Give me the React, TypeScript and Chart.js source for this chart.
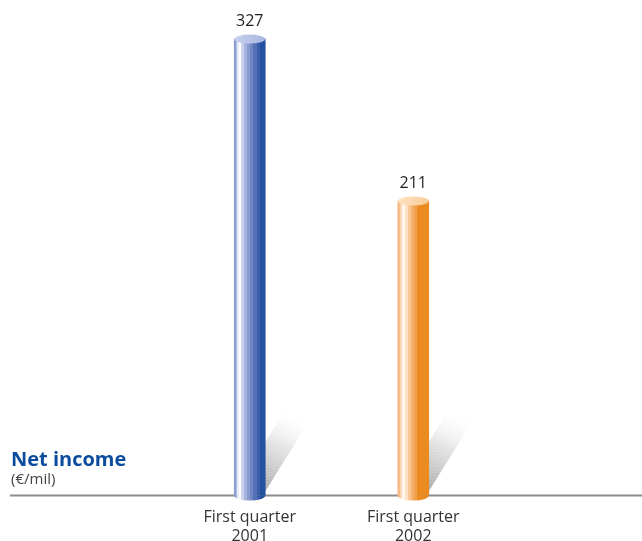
import React, { useEffect, useRef } from "react";
import { Chart, registerables } from "chart.js";

Chart.register(...registerables);

// ---- data ----
const categories: string[][] = [
  ["First quarter", "2001"],
  ["First quarter", "2002"],
];
const netIncome: number[] = [327, 211];
const valueLabels: string[] = ["327", "211"];
const titleText = "Net income";
const unitText = "(€/mil)";
const yMax = 350;

// ---- styles ----
const FONT = "'Open Sans', Lato, sans-serif";
const blueStops: [number, number, string][] = [
  [0, 0.07, "#8a9dd0"],
  [0.07, 0.1, "#b3bfe3"],
  [0.1, 0.16, "#e6eaf7"],
  [0.16, 0.22, "#ffffff"],
  [0.22, 0.32, "#c9d1ed"],
  [0.32, 0.42, "#a6b3de"],
  [0.42, 0.52, "#8b9bd0"],
  [0.52, 0.62, "#7086c4"],
  [0.62, 0.72, "#5670b6"],
  [0.72, 0.82, "#3b5eab"],
  [0.82, 1, "#2252a0"],
];
const orangeStops: [number, number, string][] = [
  [0, 0.08, "#f5bd85"],
  [0.08, 0.14, "#fad6b1"],
  [0.14, 0.24, "#fff7ee"],
  [0.24, 0.32, "#fde2c5"],
  [0.32, 0.42, "#f9c793"],
  [0.42, 0.52, "#f4b06a"],
  [0.52, 0.62, "#f0a04a"],
  [0.62, 1, "#ec8c20"],
];
const stripeSets = [blueStops, orangeStops];
const capColors: [string, string][] = [
  ["#c6cfed", "#aab7e0"],
  ["#fee2c3", "#f8cc98"],
];
const BAR_W = 31;
const CAP_RY = 4.5;

function stripeGradient(ctx: CanvasRenderingContext2D, cx: number, w: number, stops: [number, number, string][]) {
  const g = ctx.createLinearGradient(cx - w / 2, 0, cx + w / 2, 0);
  stops.forEach(([a, b, c]) => {
    g.addColorStop(a, c);
    g.addColorStop(b, c);
  });
  return g;
}

const cylinderPlugin = {
  id: "cylinder",
  beforeDatasetsDraw(chart: any) {
    const ctx: CanvasRenderingContext2D = chart.ctx;
    const base = chart.scales.y.getPixelForValue(0);
    // baseline
    ctx.save();
    ctx.strokeStyle = "#8c8c8c";
    ctx.lineWidth = 2;
    ctx.beginPath();
    ctx.moveTo(10, base);
    ctx.lineTo(chart.width, base);
    ctx.stroke();
    // shadows
    const meta = chart.getDatasetMeta(0);
    meta.data.forEach((el: any) => {
      const p = el.getProps(["x", "width", "base"], true);
      const R = p.x + p.width / 2;
      const B = p.base;
      const g = ctx.createLinearGradient(R + 2, B - 8, R + 38, B - 82);
      g.addColorStop(0, "rgba(165,165,165,0.9)");
      g.addColorStop(0.5, "rgba(205,205,205,0.6)");
      g.addColorStop(1, "rgba(255,255,255,0)");
      ctx.fillStyle = g;
      ctx.beginPath();
      ctx.moveTo(R - 2, B - 1);
      ctx.lineTo(R + 46, B - 78);
      ctx.lineTo(R + 18, B - 83);
      ctx.lineTo(R - 2, B - 50);
      ctx.closePath();
      ctx.fill();
      // faint hatching
      ctx.save();
      ctx.clip();
      ctx.strokeStyle = "rgba(255,255,255,0.18)";
      ctx.lineWidth = 1;
      for (let k = -90; k < 10; k += 3) {
        ctx.beginPath();
        ctx.moveTo(R - 5, B + k);
        ctx.lineTo(R + 60, B + k - 12);
        ctx.stroke();
      }
      ctx.restore();
    });
    ctx.restore();
  },
  afterDatasetsDraw(chart: any) {
    const ctx: CanvasRenderingContext2D = chart.ctx;
    const meta = chart.getDatasetMeta(0);
    ctx.save();
    meta.data.forEach((el: any, i: number) => {
      const p = el.getProps(["x", "y", "width", "base"], true);
      const rx = p.width / 2;
      // bottom rounded end
      ctx.fillStyle = stripeGradient(ctx, p.x, p.width, stripeSets[i]);
      ctx.beginPath();
      ctx.moveTo(p.x - rx, p.base - 1);
      ctx.ellipse(p.x, p.base, rx, CAP_RY + 0.5, 0, Math.PI, 0, true);
      ctx.closePath();
      ctx.fill();
      // top cap
      const cg = ctx.createLinearGradient(p.x - rx, 0, p.x + rx, 0);
      cg.addColorStop(0, capColors[i][0]);
      cg.addColorStop(1, capColors[i][1]);
      ctx.fillStyle = cg;
      ctx.beginPath();
      ctx.ellipse(p.x, p.y, rx, CAP_RY, 0, 0, Math.PI * 2);
      ctx.fill();
      // value label
      ctx.fillStyle = "#231f20";
      ctx.font = `16px ${FONT}`;
      ctx.textAlign = "center";
      ctx.textBaseline = "alphabetic";
      ctx.fillText(valueLabels[i], p.x, p.y - 13);
    });
    ctx.restore();
  },
};

export default function App() {
  const ref = useRef<HTMLCanvasElement>(null);
  useEffect(() => {
    if (!ref.current) return;
    const chart = new Chart(ref.current, {
      type: "bar",
      data: {
        labels: categories,
        datasets: [
          {
            data: netIncome,
            barThickness: BAR_W,
            borderWidth: 0,
            backgroundColor: (c: any) => {
              const ch = c.chart;
              if (!ch.chartArea || c.dataIndex === undefined) return "#8a9dd0";
              const x = ch.scales.x.getPixelForValue(c.dataIndex);
              return stripeGradient(ch.ctx, x, BAR_W, stripeSets[c.dataIndex]);
            },
          },
        ],
      },
      options: {
        responsive: false,
        animation: false,
        events: [],
        layout: { padding: { left: 168, right: 147, top: 7, bottom: 10 } },
        plugins: { legend: { display: false }, tooltip: { enabled: false } },
        scales: {
          x: {
            grid: { display: false },
            border: { display: false },
            ticks: {
              padding: 4,
              color: "#333333",
              font: { family: FONT, size: 16, lineHeight: 1.2 },
              maxRotation: 0,
              autoSkip: false,
            },
          },
          y: {
            display: false,
            min: 0,
            max: yMax,
          },
        },
      },
      plugins: [cylinderPlugin],
    });
    return () => chart.destroy();
  }, []);

  return (
    <div
      style={{
        position: "absolute",
        left: 0,
        top: 0,
        width: 642,
        height: 541,
        overflow: "hidden",
        background: "#ffffff",
      }}
    >
      <canvas ref={ref} width={642} height={560} style={{ display: "block" }} />
      <div
        style={{
          position: "absolute",
          left: 11,
          top: 447,
          fontFamily: FONT,
          fontWeight: 700,
          fontSize: 20,
          lineHeight: "24px",
          color: "#0c4c9e",
          whiteSpace: "nowrap",
        }}
      >
        {titleText}
      </div>
      <div
        style={{
          position: "absolute",
          left: 11,
          top: 469,
          fontFamily: FONT,
          fontSize: 15,
          lineHeight: "18px",
          color: "#444444",
          whiteSpace: "nowrap",
        }}
      >
        {unitText}
      </div>
    </div>
  );
}
